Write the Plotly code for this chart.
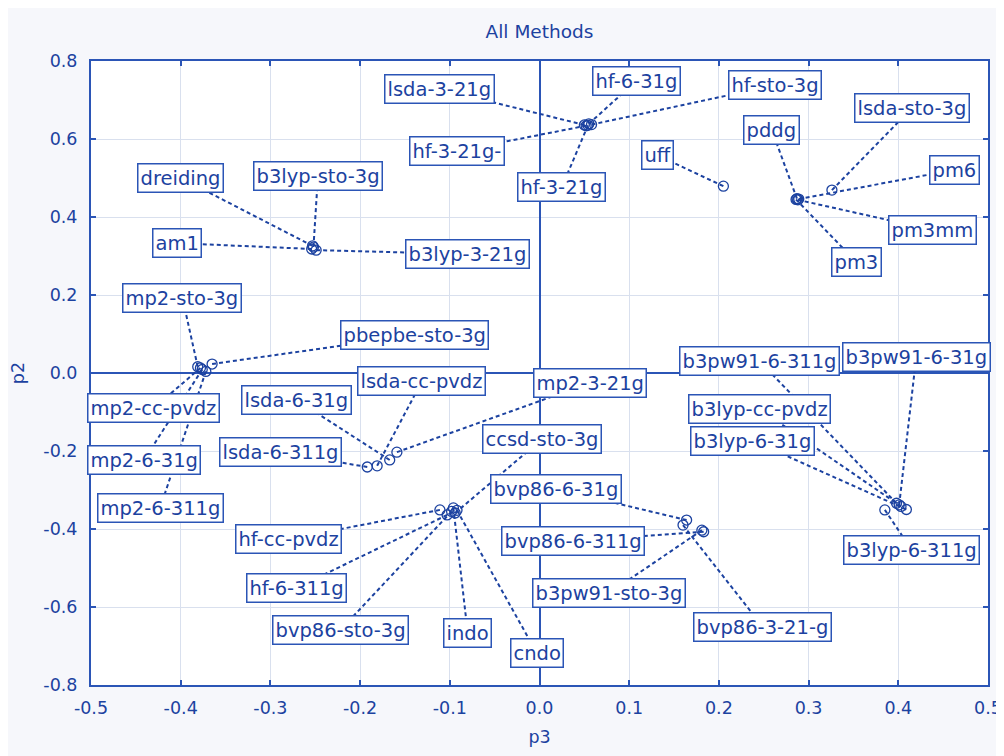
import plotly.graph_objects as go

# ---- data ----
methods = [
    "lsda-3-21g", "hf-6-31g", "hf-sto-3g", "hf-3-21g-", "hf-3-21g",
    "uff",
    "pddg", "lsda-sto-3g", "pm6", "pm3mm", "pm3",
    "dreiding", "b3lyp-sto-3g", "am1", "b3lyp-3-21g",
    "mp2-sto-3g", "pbepbe-sto-3g", "mp2-cc-pvdz", "mp2-6-31g", "mp2-6-311g",
    "lsda-cc-pvdz", "lsda-6-31g", "lsda-6-311g", "mp2-3-21g",
    "ccsd-sto-3g", "hf-cc-pvdz", "hf-6-311g", "bvp86-sto-3g", "indo", "cndo",
    "bvp86-6-31g", "bvp86-6-311g", "b3pw91-sto-3g", "bvp86-3-21-g",
    "b3pw91-6-311g", "b3pw91-6-31g", "b3lyp-cc-pvdz", "b3lyp-6-31g", "b3lyp-6-311g",
]
p3 = [
    0.050, 0.055, 0.058, 0.052, 0.054,
    0.205,
    0.287, 0.326, 0.289, 0.288, 0.286,
    -0.253, -0.252, -0.254, -0.249,
    -0.381, -0.365, -0.378, -0.376, -0.372,
    -0.181, -0.167, -0.192, -0.159,
    -0.094, -0.111, -0.103, -0.098, -0.096, -0.092,
    0.164, 0.183, 0.181, 0.160,
    0.398, 0.401, 0.403, 0.409, 0.385,
]
p2 = [
    0.636, 0.639, 0.637, 0.634, 0.635,
    0.479,
    0.447, 0.469, 0.446, 0.444, 0.445,
    0.326, 0.323, 0.318, 0.315,
    0.016, 0.023, 0.013, 0.009, 0.004,
    -0.238, -0.223, -0.241, -0.203,
    -0.359, -0.351, -0.364, -0.355, -0.346, -0.352,
    -0.377, -0.407, -0.403, -0.390,
    -0.334, -0.338, -0.342, -0.350, -0.351,
]

x_tick_vals = [-0.5, -0.4, -0.3, -0.2, -0.1, 0.0, 0.1, 0.2, 0.3, 0.4, 0.5]
x_tick_text = ["-0.5", "-0.4", "-0.3", "-0.2", "-0.1", "0.0", "0.1", "0.2", "0.3", "0.4", "0.5"]
y_tick_vals = [-0.8, -0.6, -0.4, -0.2, 0.0, 0.2, 0.4, 0.6, 0.8]
y_tick_text = ["-0.8", "-0.6", "-0.4", "-0.2", "0.0", "0.2", "0.4", "0.6", "0.8"]

# ---- label box placement (layout) ----
label_x = [
    -0.111, 0.108, 0.263, -0.092, 0.025,
    0.131,
    0.259, 0.415, 0.463, 0.438, 0.353,
    -0.400, -0.247, -0.404, -0.080,
    -0.398, -0.139, -0.430, -0.441, -0.423,
    -0.131, -0.271, -0.289, 0.056,
    0.003, -0.280, -0.271, -0.222, -0.080, -0.003,
    0.018, 0.037, 0.078, 0.249,
    0.245, 0.420, 0.245, 0.238, 0.415,
]
label_y = [
    0.728, 0.749, 0.738, 0.569, 0.477,
    0.559,
    0.623, 0.679, 0.521, 0.367, 0.285,
    0.500, 0.505, 0.333, 0.305,
    0.192, 0.097, -0.090, -0.223, -0.346,
    -0.021, -0.069, -0.203, -0.026,
    -0.169, -0.426, -0.551, -0.659, -0.667, -0.718,
    -0.297, -0.431, -0.564, -0.651,
    0.031, 0.041, -0.092, -0.174, -0.454,
]

BLUE = "#1c42a0"
FRAME = "#2b55b6"
GRID = "#d9e0ee"
FONT = "DejaVu Sans"

fig = go.Figure()

# connector lines
cx, cy = [], []
for x, y, lx, ly in zip(p3, p2, label_x, label_y):
    cx += [x, lx, None]
    cy += [y, ly, None]
fig.add_trace(go.Scatter(
    x=cx, y=cy, mode="lines",
    line=dict(color=BLUE, width=2, dash="4px,3px"),
    hoverinfo="skip", showlegend=False,
))

# points
fig.add_trace(go.Scatter(
    x=p3, y=p2, mode="markers", text=methods,
    marker=dict(symbol="circle-open", size=10, color=BLUE, line=dict(width=1.3)),
    showlegend=False,
))

for m, lx, ly in zip(methods, label_x, label_y):
    fig.add_annotation(
        x=lx, y=ly, xref="x", yref="y", text=m, showarrow=False,
        font=dict(family=FONT, size=19.5, color=BLUE),
        bgcolor="white", bordercolor=FRAME, borderwidth=1.5, borderpad=2,
    )

axis_common = dict(
    showgrid=True, gridcolor=GRID, gridwidth=1,
    zeroline=True, zerolinecolor=FRAME, zerolinewidth=1.5,
    showline=True, linecolor=FRAME, linewidth=2, mirror="ticks",
    ticks="inside", ticklen=5, tickcolor=FRAME, tickwidth=1.5,
    tickfont=dict(family=FONT, size=17.5, color=BLUE),
    automargin=False,
)

fig.update_layout(
    width=996, height=748,
    paper_bgcolor="#f6f7fb", plot_bgcolor="white",
    margin=dict(l=83, r=16, t=53, b=71),
    title=dict(text="All Methods", x=0.5, xanchor="center", xref="paper",
               y=1 - 24 / 748, yanchor="middle",
               font=dict(family=FONT, size=18.5, color=BLUE)),
    xaxis=dict(range=[-0.5, 0.5], tickmode="array", tickvals=x_tick_vals, ticktext=x_tick_text,
               ticklabelstandoff=6,
               title=dict(text="p3", font=dict(family=FONT, size=17.5, color=BLUE), standoff=14),
               **axis_common),
    yaxis=dict(range=[-0.8, 0.8], tickmode="array", tickvals=y_tick_vals, ticktext=y_tick_text,
               ticklabelstandoff=8,
               title=dict(text="p2", font=dict(family=FONT, size=17.5, color=BLUE), standoff=18),
               **axis_common),
    showlegend=False,
)

fig.write_html("out.html")
